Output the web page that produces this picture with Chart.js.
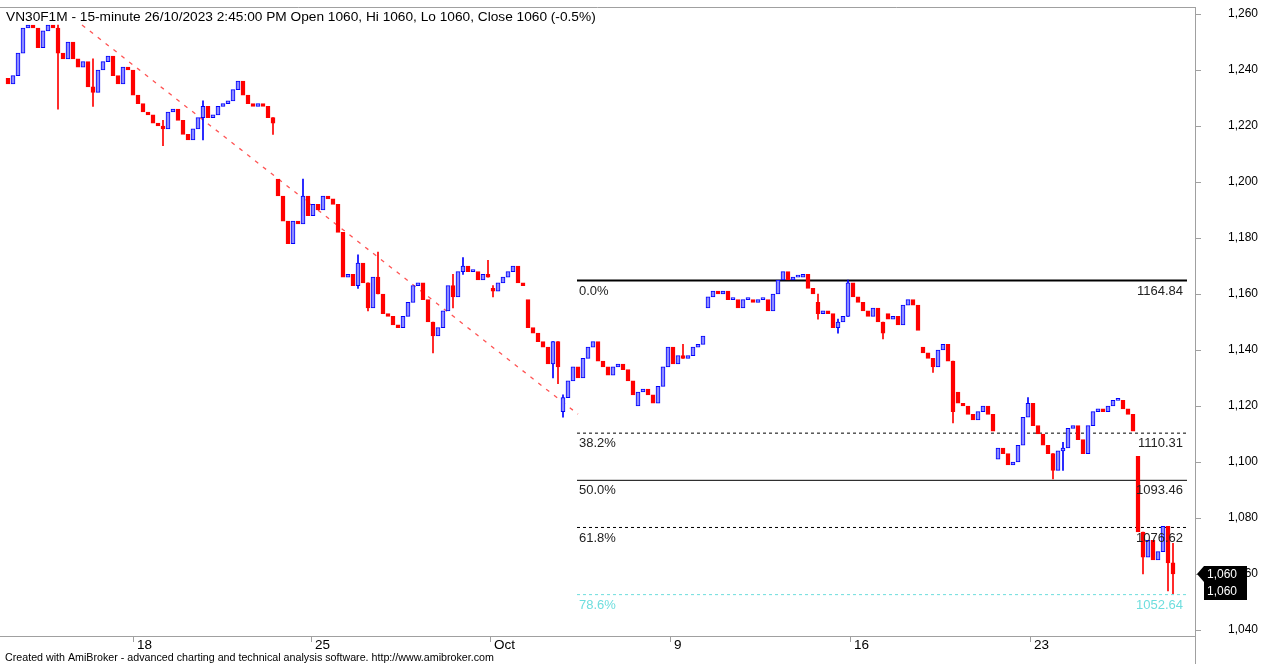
<!DOCTYPE html>
<html>
<head>
<meta charset="utf-8">
<script src="https://cdn.jsdelivr.net/npm/chart.js@4.4.0/dist/chart.umd.min.js"></script>
<style>
  html, body { margin: 0; padding: 0; background: #fff; }
  #wrap { width: 1266px; height: 664px; position: relative; }
</style>
</head>
<body>
<div id="wrap"><canvas id="chart_vn30f1m"></canvas></div>
<script>
// VN30F1M 15-minute (one bar every ~5 px)
var closes = [
  1235, 1238, 1246, 1255, 1256, 1255, 1248, 1254, 1256, 1255,
  1246, 1244, 1250, 1244, 1241, 1243, 1234, 1232, 1240, 1243,
  1245, 1238, 1235, 1241, 1240, 1231, 1228, 1225, 1224, 1221,
  1220, 1219, 1225, 1226, 1222, 1217, 1215, 1219, 1223, 1227,
  1223, 1224, 1227, 1228, 1229, 1233, 1236, 1231, 1228, 1227,
  1228, 1227, 1223, 1221, 1195, 1186, 1178, 1186, 1185, 1195,
  1188, 1192, 1190, 1195, 1194, 1192, 1182, 1166, 1167, 1163,
  1171, 1164, 1155, 1166, 1160, 1153, 1152, 1149, 1148, 1152,
  1157, 1163, 1164, 1158, 1150, 1145, 1148, 1154, 1163, 1159,
  1168, 1170, 1168, 1168, 1165, 1167, 1166, 1161, 1164, 1166,
  1168, 1170, 1164, 1163, 1148, 1146, 1143, 1141, 1135, 1143,
  1134, 1123, 1129, 1134, 1130, 1137, 1141, 1143, 1136, 1134,
  1131, 1134, 1135, 1133, 1129, 1124, 1125, 1126, 1124, 1121,
  1127, 1134, 1141, 1135, 1138, 1137, 1138, 1141, 1142, 1145,
  1159, 1161, 1160, 1161, 1158, 1158, 1155, 1158, 1158, 1157,
  1158, 1158, 1154, 1160, 1165, 1168, 1165, 1166, 1166, 1167,
  1162, 1160, 1153, 1154, 1153, 1148, 1150, 1152, 1164, 1159,
  1157, 1154, 1152, 1155, 1150, 1146, 1151, 1152, 1149, 1156,
  1158, 1156, 1147, 1139, 1137, 1134, 1140, 1142, 1136, 1118,
  1121, 1120, 1117, 1115, 1118, 1120, 1117, 1111, 1105, 1103,
  1099, 1100, 1106, 1116, 1121, 1113, 1110, 1106, 1103, 1097,
  1104, 1105, 1112, 1113, 1108, 1103, 1113, 1118, 1119, 1118,
  1120, 1122, 1122, 1119, 1117, 1111, 1075, 1066, 1072, 1065,
  1068, 1077, 1064, 1060
];
// bars that open after a price gap: [bar, open]
var sessionOpens = [
  [0, 1237], [54, 1201], [97, 1162], [104, 1158], [111, 1118], [126, 1120], [140, 1155],
  [162, 1157], [176, 1153], [183, 1141], [190, 1125], [198, 1101], [226, 1102]
];
// visible shadows: [bar, low, high]
var wicks = [
  [10, 1226, 1256], [17, 1227, 1244], [31, 1213, 1222], [39, 1215, 1229], [53, 1217, 1223],
  [59, 1186, 1201], [70, 1162, 1174], [72, 1154, 1164], [74, 1160, 1175], [85, 1139, 1150],
  [89, 1155, 1167], [91, 1167, 1173], [96, 1166, 1172], [97, 1159, 1163], [109, 1130, 1143],
  [110, 1128, 1143], [111, 1116, 1124], [135, 1137, 1142], [162, 1151, 1160], [166, 1146, 1151],
  [168, 1152, 1165], [175, 1144, 1150], [185, 1132, 1137], [189, 1114, 1136], [204, 1120, 1123],
  [209, 1094, 1103], [211, 1097, 1107], [227, 1060, 1075], [232, 1054, 1077], [233, 1053, 1071]
];
var xTickPos = [25, 60.6, 96.4, 132.4, 168.4, 204.4];
var xTickLabels = ['18', '25', 'Oct', '9', '16', '23'];
var yTickValues = [1040, 1060, 1080, 1100, 1120, 1140, 1160, 1180, 1200, 1220, 1240, 1260];
var fibNames = ['0.0%', '38.2%', '50.0%', '61.8%', '78.6%'];
var fibLevels = [1164.84, 1110.31, 1093.46, 1076.62, 1052.64];
var fibFrom = 113.8, fibTo = 235.8;
var trendX = [14.8, 114];
var trendY = [1256.1, 1117.1];
var lastClose = 1060;
var titleText = 'VN30F1M - 15-minute 26/10/2023 2:45:00 PM Open 1060, Hi 1060, Lo 1060, Close 1060 (-0.5%)';
var footerText = 'Created with AmiBroker - advanced charting and technical analysis software. http://www.amibroker.com';

var FONT = '"Liberation Sans", Arial, sans-serif';
var AXIS = '#a0a0a0';
var RED = '#ff0000', BLUE = '#0000ff', BLUE_FILL = '#8c8cff', CYAN = '#6edede';

function fmt(v) {
  return String(v).replace(/\B(?=(\d{3})+(?!\d))/g, ',');
}

var opens = closes.map(function (c, i) { return i > 0 ? closes[i - 1] : c; });
sessionOpens.forEach(function (s) { opens[s[0]] = s[1]; });
var up = closes.map(function (c, i) { return c >= opens[i]; });

var bodyData = closes.map(function (c, i) { return { x: i, y: [opens[i], c] }; });
var wickData = wicks.map(function (w) { return { x: w[0], y: [w[1], w[2]] }; });
var wickColors = wicks.map(function (w) { return up[w[0]] ? BLUE : RED; });

var fibStyles = [
  { color: '#000', width: 2, dash: [] },
  { color: '#000', width: 1, dash: [3, 3] },
  { color: '#000', width: 1, dash: [] },
  { color: '#000', width: 1, dash: [3, 3] },
  { color: CYAN, width: 1, dash: [3, 3] }
];
var fibDatasets = fibLevels.map(function (lv, k) {
  return {
    type: 'line',
    label: fibNames[k],
    data: [{ x: fibFrom, y: lv }, { x: fibTo, y: lv }],
    borderColor: fibStyles[k].color,
    borderWidth: fibStyles[k].width,
    borderDash: fibStyles[k].dash,
    pointRadius: 0,
    order: 3
  };
});

var amiFrame = {
  id: 'amiFrame',
  beforeDraw: function (chart) {
    var ctx = chart.ctx;
    ctx.save();
    ctx.fillStyle = '#ffffff';
    ctx.fillRect(0, 0, chart.width, chart.height);
    ctx.restore();
  },
  afterDatasetsDraw: function (chart) {
    var ctx = chart.ctx, xs = chart.scales.x, ys = chart.scales.y;
    ctx.save();
    ctx.font = '13px ' + FONT;
    ctx.textBaseline = 'top';
    fibLevels.forEach(function (lv, k) {
      var y = ys.getPixelForValue(lv);
      ctx.fillStyle = k === 4 ? CYAN : '#222';
      ctx.textAlign = 'left';
      ctx.fillText(fibNames[k], xs.getPixelForValue(fibFrom) + 2, y + 4);
      ctx.textAlign = 'right';
      ctx.fillText(lv.toFixed(2), xs.getPixelForValue(fibTo) - 4, y + 4);
    });
    ctx.restore();
  },
  afterDraw: function (chart) {
    var ctx = chart.ctx, area = chart.chartArea, ys = chart.scales.y;
    ctx.save();
    ctx.strokeStyle = AXIS;
    ctx.lineWidth = 1;
    ctx.beginPath();
    ctx.moveTo(0, area.top + 0.5);
    ctx.lineTo(area.right, area.top + 0.5);
    ctx.moveTo(area.right + 0.5, area.bottom);
    ctx.lineTo(area.right + 0.5, chart.height);
    ctx.stroke();

    ctx.fillStyle = '#000';
    ctx.textAlign = 'left';
    ctx.textBaseline = 'alphabetic';
    ctx.font = '13.7px ' + FONT;
    ctx.fillText(titleText, 6, 21);
    ctx.font = '10.7px ' + FONT;
    ctx.fillText(footerText, 5, 661);

    // last price marker on the price axis
    var py = Math.round(ys.getPixelForValue(lastClose));
    var bx = area.right + 2;
    ctx.fillStyle = '#000';
    ctx.beginPath();
    ctx.moveTo(bx, py);
    ctx.lineTo(bx + 7, py - 8);
    ctx.lineTo(bx + 50, py - 8);
    ctx.lineTo(bx + 50, py + 26);
    ctx.lineTo(bx + 7, py + 26);
    ctx.lineTo(bx + 7, py + 8);
    ctx.closePath();
    ctx.fill();
    ctx.fillStyle = '#fff';
    ctx.font = '12px ' + FONT;
    ctx.textBaseline = 'middle';
    ctx.fillText(fmt(lastClose), bx + 10, py + 1);
    ctx.fillText(fmt(lastClose), bx + 10, py + 18);
    ctx.restore();
  }
};

var chart_vn30f1m = new Chart(document.getElementById('chart_vn30f1m'), {
  type: 'bar',
  data: {
    datasets: [
      {
        label: 'VN30F1M',
        data: bodyData,
        backgroundColor: up.map(function (u) { return u ? BLUE_FILL : RED; }),
        borderColor: up.map(function (u) { return u ? BLUE : RED; }),
        borderWidth: 1,
        borderSkipped: false,
        barThickness: 4,
        minBarLength: 2,
        grouped: false,
        order: 1
      },
      {
        label: 'wick',
        data: wickData,
        backgroundColor: wickColors,
        borderWidth: 0,
        barThickness: 1,
        grouped: false,
        order: 2
      },
      {
        type: 'line',
        label: 'trend',
        data: [{ x: trendX[0], y: trendY[0] }, { x: trendX[1], y: trendY[1] }],
        borderColor: 'rgba(255,40,40,0.8)',
        borderWidth: 1.3,
        borderDash: [4, 6],
        pointRadius: 0,
        order: 3
      }
    ].concat(fibDatasets)
  },
  options: {
    animation: false,
    responsive: true,
    maintainAspectRatio: false,
    layout: { padding: { top: 7, left: 0, right: 0, bottom: 0 } },
    plugins: {
      legend: { display: false },
      tooltip: { enabled: false },
      title: { display: false }
    },
    scales: {
      x: {
        type: 'linear',
        min: -1.6,
        max: 237.4,
        offset: false,
        afterFit: function (s) {
          s.height = 28;
          s.paddingLeft = 0;
          s.paddingRight = 0;
        },
        afterBuildTicks: function (s) {
          s.ticks = xTickPos.map(function (v) { return { value: v }; });
        },
        grid: { display: true, drawOnChartArea: false, drawTicks: true, tickLength: 6, color: AXIS, offset: false },
        border: { display: true, color: AXIS },
        ticks: {
          autoSkip: false,
          maxRotation: 0,
          align: 'start',
          labelOffset: 4,
          padding: -5,
          color: '#000',
          font: { family: FONT, size: 13.5 },
          callback: function (v, i) { return xTickLabels[i]; }
        }
      },
      y: {
        type: 'linear',
        position: 'right',
        min: 1037.86,
        max: 1262.5,
        beginAtZero: false,
        afterFit: function (s) {
          s.width = 71;
          s.paddingTop = 0;
          s.paddingBottom = 0;
        },
        afterBuildTicks: function (s) {
          s.ticks = yTickValues.map(function (v) { return { value: v }; });
        },
        grid: { display: true, drawOnChartArea: false, drawTicks: true, tickLength: 6, color: AXIS },
        border: { display: true, color: AXIS },
        ticks: {
          padding: 27,
          color: '#000',
          font: { family: FONT, size: 12 },
          callback: function (v) { return fmt(v); }
        }
      }
    }
  },
  plugins: [amiFrame]
});
</script>
</body>
</html>
